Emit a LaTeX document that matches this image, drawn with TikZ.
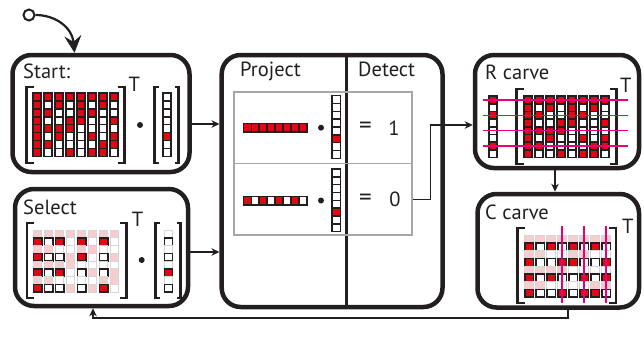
\documentclass[tikz,border=0pt]{standalone}
\usepackage{fontspec}
\setmainfont{PT Sans}
\usetikzlibrary{arrows.meta,calc}

\definecolor{ink}{HTML}{231F20}
\definecolor{cellred}{HTML}{E30613}
\definecolor{cellpink}{HTML}{F8CDD0}
\definecolor{fadeline}{HTML}{D6D6D6}
\definecolor{carveline}{HTML}{E6007E}
\definecolor{framegray}{HTML}{A7A7A7}

\tikzset{
  panel/.style={draw=ink, line width=4.5pt, rounded corners=19pt, inner sep=0pt},
  frame/.style={draw=framegray, line width=1.8pt, inner sep=0pt},
  link/.style={draw=ink, line width=1.1pt, -{Stealth[length=8pt,width=7.5pt,inset=2.5pt]}},
  label/.style={anchor=base west, inner sep=0pt, text=ink, font=\fontsize{20.5}{20.5}\selectfont},
  sym/.style={inner sep=0pt, text=ink, font=\fontsize{25}{25}\selectfont},
  bracket/.style={draw=ink, line width=2.3pt},
  cellR/.style={fill=cellred, draw=ink, line width=1.5pt},
  cellW/.style={fill=white, draw=ink, line width=1.5pt},
  cellr/.style={fill=cellpink, draw=fadeline, line width=1.2pt},
  cellw/.style={fill=white, draw=fadeline, line width=1.2pt},
  cut/.style={draw=carveline, line width=1.6pt},
}

% grid of cells: first centre x, first centre y, column pitch, row pitch,
% cell width, cell height, rows of cell types (R/W dark, r/w faded)
\newcommand\cellgrid[7]{%
  \foreach \rowcells [count=\ri from 0] in {#7} {
    \foreach \t [count=\ci from 0] in \rowcells {
      \path[cell\t] ({#1+\ci*#3-#5/2},{#2+\ri*#4-#6/2}) rectangle ++(#5,#6);
    }
  }%
}
% square brackets: x of the bar, top, bottom, serif length
\newcommand\brL[4]{\draw[bracket] ({#1+#4},#2) -- (#1,#2) -- (#1,#3) -- ({#1+#4},#3);}
\newcommand\brR[4]{\draw[bracket] ({#1-#4},#2) -- (#1,#2) -- (#1,#3) -- ({#1-#4},#3);}

\begin{document}
\begin{tikzpicture}[x=1pt,y=-1pt]
\useasboundingbox (0,0) rectangle (644,343);

% ---- panels ----
\node[panel, minimum width=177pt, minimum height=117pt] (start) at (101,113.5) {};
\node[panel, minimum width=173pt, minimum height=117pt] (select) at (101.5,247.5) {};
\node[panel, minimum width=220.8pt, minimum height=252pt] (proj) at (332.1,181) {};
\node[panel, minimum width=164pt, minimum height=113pt] (rcarve) at (557,111.5) {};
\node[panel, minimum width=161.5pt, minimum height=113.5pt] (ccarve) at (558.25,250.75) {};

% divider between Project and Detect
\draw[draw=ink, line width=3pt] (proj.north -| 346.7,0) -- (proj.south -| 346.7,0);

% ---- titles ----
\node[label] (tstart) at (23,78.3) {Start:};
\node[label] (tselect) at (23,214) {Select};
\node[label] (tproj) at (240,76.7) {Project};
\node[label] (tdet) at (358,76.7) {Detect};
\node[label] (trc) at (485,79.3) {R carve};
\node[label] (tcc) at (485,219.5) {C carve};

% ---- Start panel ----
\cellgrid{37}{97}{11}{7.9}{8}{7.9}{
{R,R,R,R,R,R,R,R},{R,W,R,W,R,W,R,W},{R,R,W,W,R,R,W,W},{R,W,W,R,R,W,W,R},
{R,R,R,R,W,W,W,W},{R,W,R,W,W,R,W,R},{R,R,W,W,W,W,R,R},{R,W,W,R,W,R,R,W}}
\brL{26.5}{87}{163}{7}
\brR{124.5}{87}{163}{7}
\node[label] (tT1) at (128.5,91.7) {T};
\fill[ink] (140,125) circle (3);
\cellgrid{167}{97}{11}{7.9}{8}{7.9}{{W},{W},{W},{W},{W},{R},{W},{W}}
\brL{154.5}{87}{163}{4}
\brR{178.5}{87}{163}{4}

% ---- Select panel ----
\cellgrid{37.5}{234}{11}{7.75}{8.5}{7.75}{
{r,r,r,r,r,r,r,r},{R,W,R,w,R,w,R,w},{r,r,w,w,r,r,w,w},{R,W,W,r,R,w,W,r},
{r,r,r,r,w,w,w,w},{R,W,R,w,W,r,W,r},{r,r,w,w,w,w,r,r},{R,W,W,r,W,r,R,w}}
\brL{27}{222.7}{298}{7}
\brR{126.5}{222.7}{298}{7}
\node[label] (tT2) at (131.7,226.7) {T};
\fill[ink] (141.7,260) circle (3);
\cellgrid{168.5}{234}{11}{7.75}{8}{7.75}{{w},{W},{w},{W},{w},{R},{w},{W}}
\brL{155.5}{222.7}{298}{4}
\brR{180.5}{222.7}{298}{4}

% ---- Project / Detect rows ----
\node[frame, minimum width=177.7pt, minimum height=71.5pt] (prow1) at (322.85,127.75) {};
\node[frame, minimum width=177.7pt, minimum height=71.5pt] (prow2) at (322.85,199.25) {};
\cellgrid{247.3}{127.8}{7.93}{8}{7.93}{8.5}{{R,R,R,R,R,R,R,R}}
\fill[ink] (321,127.7) circle (3);
\cellgrid{336.2}{99.6}{8}{7.83}{8.5}{7.83}{{W},{W},{W},{W},{W},{R},{W},{W}}
\node[sym] (eq1) at (365.5,127.5) {=};
\node[label, anchor=base] (one) at (394,135) {1};

\cellgrid{247.3}{200.5}{7.93}{8}{7.93}{8.5}{{R,W,R,W,R,W,R,W}}
\fill[ink] (321,200.5) circle (3);
\cellgrid{336.2}{172.9}{8}{7.83}{8.5}{7.83}{{W},{W},{W},{W},{W},{R},{W},{W}}
\node[sym] (eq0) at (365.5,200) {=};
\node[label, anchor=base] (zero) at (395,206.7) {0};

% ---- R carve panel ----
\cellgrid{493}{100}{11}{7.67}{8}{7.67}{{R},{W},{R},{W},{W},{W},{R},{W}}
\cellgrid{528}{100}{11}{7.67}{8}{7.67}{
{R,R,R,R,R,R,R,R},{R,W,R,W,R,W,R,W},{R,R,W,W,R,R,W,W},{R,W,W,R,R,W,W,R},
{R,R,R,R,W,W,W,W},{R,W,R,W,W,R,W,R},{R,R,W,W,W,W,R,R},{R,W,W,R,W,R,R,W}}
\brL{516.5}{89}{164}{7}
\brR{616.5}{89}{164}{7}
\node[label] (tT3) at (620,92.7) {T};
\foreach \yy in {100,115.33,130.67,146} \draw[cut] (483,\yy) -- (628,\yy);

% ---- C carve panel ----
\cellgrid{529}{239.3}{11}{7.7}{8.5}{7.7}{
{r,r,r,r,r,r,r,r},{R,W,R,W,R,W,R,W},{r,r,w,w,r,r,w,w},{R,W,W,R,R,W,W,R},
{r,r,r,r,w,w,w,w},{R,W,R,W,W,R,W,R},{r,r,w,w,w,w,r,r},{R,W,W,R,W,R,R,W}}
\brL{517.5}{228}{303}{7}
\brR{616}{228}{303}{7}
\node[label] (tT4) at (622,233.3) {T};
\foreach \xx in {562,584,606} \draw[cut] (\xx,226) -- (\xx,303);

% ---- connectors ----
\node[circle, draw=ink, line width=2pt, minimum size=11pt, inner sep=0pt] (init) at (29,15) {};
\draw[draw=ink, line width=2.2pt, -{Stealth[length=17pt,width=17pt,inset=6pt]}]
  (init.east) .. controls (55,15) and (72,27) .. (start.north -| 74.5,0);
\draw[link] (start.east |- 0,124) -- (proj.west |- 0,124);
\draw[link] (select.east |- 0,252) -- (proj.west |- 0,252);
\draw[link] (prow2.east) -- ++(18,0) |- (rcarve.west |- 0,125);
\draw[link] (rcarve.south -| 555,0) -- (ccarve.north -| 555,0);
\draw[link] (ccarve.south -| 568,0) -- (568,318) -| (select.south -| 93,0);
\end{tikzpicture}
\end{document}
